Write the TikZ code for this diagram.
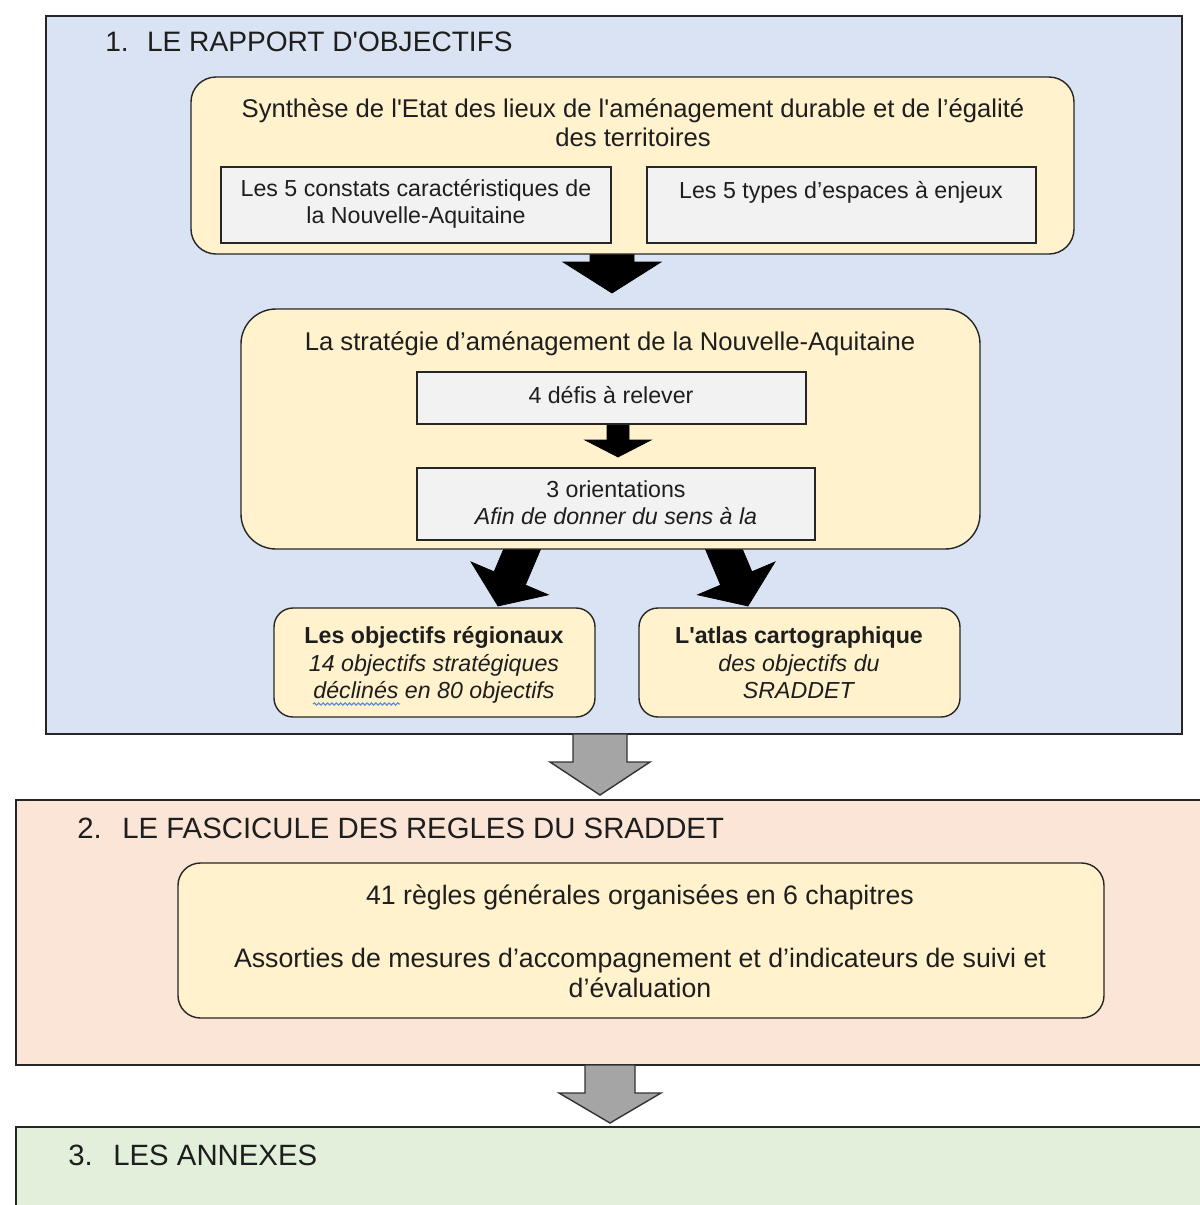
\documentclass[tikz,border=0pt]{standalone}
\usepackage{fontspec}
\setmainfont{Liberation Sans}[Ligatures=TeXOff]
\usetikzlibrary{fit,decorations.pathmorphing}
\definecolor{panelblue}{HTML}{DAE3F3}
\definecolor{panelpink}{HTML}{FBE5D6}
\definecolor{panelgreen}{HTML}{E2EFDA}
\definecolor{cream}{HTML}{FFF2CC}
\definecolor{innergray}{HTML}{F2F2F2}
\definecolor{arrowgray}{HTML}{A5A5A5}
\definecolor{txtcol}{HTML}{1E1E1E}
\definecolor{spellblue}{HTML}{5B8FD6}
\newcommand{\blockarrow}[7]{%
  \begin{scope}[shift={(#2)}, rotate=#3]
    \path[#1] (0,0) -- (-#6,-#7) -- (-#5,-#7) -- (-#5,-#4) -- (#5,-#4) -- (#5,-#7) -- (#6,-#7) -- cycle;
  \end{scope}}
\newcommand{\bigtxt}{\fontsize{14.6}{16.4}\selectfont}
\newcommand{\midtxt}{\fontsize{13.2}{15.3}\selectfont}
\newcommand{\objtxt}{\fontsize{13.2}{15.6}\selectfont}
\newcommand{\ctxt}{\fontsize{15.2}{17}\selectfont}
\begin{document}
\begin{tikzpicture}[x=0.02cm,y=-0.02cm,
  panel/.style={draw=black!85, line width=0.8pt, inner sep=0pt},
  rbox/.style={draw=black!85, line width=0.8pt, fill=cream, inner sep=0pt},
  sbox/.style={draw=black!85, line width=0.8pt, fill=innergray, inner sep=0pt},
  txt/.style={text=txtcol, align=center, inner sep=0pt},
  ttl/.style={text=txtcol, anchor=west, inner sep=0pt},
  blk/.style={fill=black, draw=black, line width=0.4pt},
  gry/.style={fill=arrowgray, draw=black!80, line width=0.8pt, line join=miter}]
\useasboundingbox (0,0) rectangle (1200,1205);
\clip (0,0) rectangle (1200,1205);
\fill[white] (0,0) rectangle (1200,1205);

% panels
\node[panel, fill=panelblue, fit={(46,16) (1182,734)}] (P1) {};
\node[panel, fill=panelpink, fit={(16,800) (1220,1065)}] (P2) {};
\node[panel, fill=panelgreen, fit={(16,1127) (1220,1240)}] (P3) {};

% arrow tips
\coordinate (g1) at (600,795);
\coordinate (g2) at (610,1123);
\coordinate (k1) at (612,293);
\coordinate (k2) at (618,457);
\coordinate (kl) at (498,606);
\coordinate (kr) at (748,606);

\blockarrow{gry}{g1}{0}{61}{27}{50}{33}
\blockarrow{gry}{g2}{0}{58}{25}{51}{30}
\blockarrow{blk}{k1}{0}{45}{22}{49}{31}
\blockarrow{blk}{kl}{-23}{70}{17}{42}{30}
\blockarrow{blk}{kr}{23}{70}{17}{42}{30}

% boxes
\node[rbox, rounded corners=0.5cm, fit={(191,77) (1074,254)}] (A) {};
\node[sbox, fit={(221,167) (611,243)}] (A1) {};
\node[sbox, fit={(647,167) (1036,243)}] (A2) {};
\node[rbox, rounded corners=0.7cm, fit={(241,309) (980,549)}] (B) {};
\blockarrow{blk}{k2}{0}{35}{11}{33}{17}
\node[sbox, fit={(417,372) (806,424)}] (B1) {};
\node[sbox, fit={(417,468) (815,540)}] (B2) {};
\node[rbox, rounded corners=0.38cm, fit={(274,608) (595,717)}] (O1) {};
\node[rbox, rounded corners=0.38cm, fit={(639,608) (960,717)}] (O2) {};
\node[rbox, rounded corners=0.45cm, fit={(178,863) (1104,1018)}] (C) {};

% titles
\node[ttl, font=\fontsize{16}{19}\selectfont] (t1) at (105,42) {1.\hspace{0.65em}LE RAPPORT D'OBJECTIFS};
\node[ttl, font=\fontsize{16.7}{19}\selectfont] (t2) at (77,828) {2.\hspace{0.7em}LE FASCICULE DES REGLES DU SRADDET};
\node[ttl, font=\fontsize{16.7}{19}\selectfont] (t3) at (68,1155) {3.\hspace{0.7em}LES ANNEXES};

% texts
\node[txt, font=\bigtxt] (tA) at (633,122.5) {Synthèse de l'Etat des lieux de l'aménagement durable et de l’égalité\\des territoires};
\node[txt, font=\midtxt] (tA1) at (416,203.5) {Les 5 constats caractéristiques de\\la Nouvelle-Aquitaine};
\node[txt, font=\midtxt] (tA2) at (841,192) {Les 5 types d’espaces à enjeux};
\node[txt, font=\bigtxt] (tB) at (610,344) {La stratégie d’aménagement de la Nouvelle-Aquitaine};
\node[txt, font=\midtxt] (tB1) at (611,395) {4 défis à relever};
\node[txt, font=\midtxt] (tB2) at (616,502.5) {3 orientations\\\textit{Afin de donner du sens à la}};
\node[txt, font=\objtxt] (tO1) at (434,665) {\textbf{Les objectifs régionaux}\\\textit{14 objectifs stratégiques}\\\textit{déclinés en 80 objectifs}};
\node[txt, font=\objtxt] (tO2) at (799,663) {\textbf{L'atlas cartographique}\\\textit{des objectifs du}\\\textit{SRADDET}};
\node[txt, font=\ctxt] (tC1) at (640,897) {41 règles générales organisées en 6 chapitres};
\node[txt, font=\ctxt] (tC2) at (640,973) {Assorties de mesures d’accompagnement et d’indicateurs de suivi et\\d’évaluation};

% spell-check underline
\coordinate (su1) at (313,704);
\coordinate (su2) at (400,704);
\draw[spellblue, line width=0.7pt, decorate, decoration={snake, amplitude=0.6pt, segment length=2.5pt}] (su1) -- (su2);
\end{tikzpicture}
\end{document}
